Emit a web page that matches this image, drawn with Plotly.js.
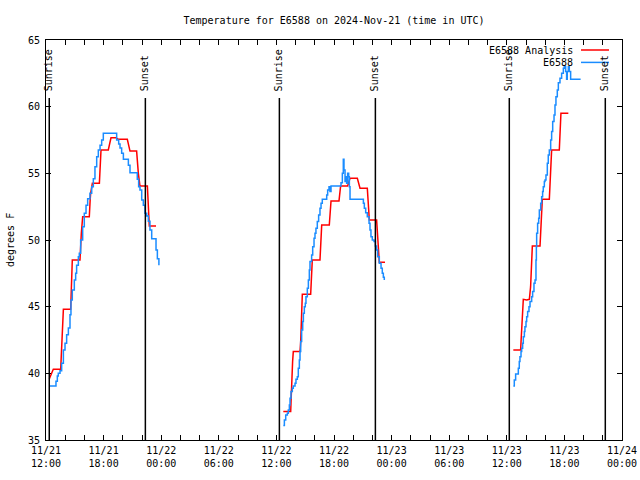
<!DOCTYPE html>
<html><head><meta charset="utf-8">
<script src="https://cdn.plot.ly/plotly-3.0.1.min.js"></script>
<style>html,body{margin:0;padding:0;background:#fff}#chart{width:640px;height:480px}</style>
</head><body><div id="chart"></div>
<script>
// Hours after 2024-11-21 12:00 UTC
const BASE_MS = Date.UTC(2024, 10, 21, 12, 0, 0);
const RANGE_HOURS = 60;

// E6588 Analysis (red)
const analysisHours1 = [0.35,0.59,0.76,1.53,1.58,1.63,1.81,2.57,2.62,2.74,3.54,3.6,3.68,3.82,4.51,4.6,4.65,4.83,5.56,5.73,6.49,6.77,7.29,7.54,8.47,8.75,9.44,9.62,9.79,10.56,10.76,11.46];
const analysisTemps1 = [39.6,40.05,40.3,40.3,41.1,42.6,44.8,44.8,45.75,48.5,48.5,49.5,50.5,51.75,51.75,53.0,53.5,54.25,54.25,56.75,56.75,57.67,57.67,57.55,57.55,56.67,56.67,55.0,54.05,54.05,51.05,51.05];
const analysisHours2 = [24.72,25.49,25.52,25.59,25.69,25.76,26.46,26.53,26.63,26.7,27.57,27.67,27.74,28.54,28.72,29.51,29.69,30.52,30.69,31.42,31.67,32.43,32.71,33.47,33.68,34.44,34.72,35.31];
const analysisTemps2 = [37.13,37.13,37.75,39.5,40.9,41.63,41.63,42.38,44.75,45.93,45.93,47.5,48.5,48.5,51.13,51.13,52.93,52.93,54.05,54.05,54.63,54.63,53.88,53.88,51.5,51.5,48.33,48.33];
const analysisHours3 = [48.68,49.44,49.48,49.55,49.62,49.72,50.07,50.35,50.48,50.55,50.66,51.46,51.53,51.63,51.7,52.43,52.57,52.67,53.47,53.64,54.41];
const analysisTemps3 = [41.75,41.75,42.33,43.63,44.75,45.55,45.5,45.55,46.5,48.5,49.55,49.55,50.38,52.13,53.05,53.05,54.9,56.75,56.75,59.5,59.5];

// E6588 observations (blue)
const obsHours1 = [0.35,1.04,1.18,1.28,1.46,1.63,1.81,1.98,2.15,2.33,2.5,2.6,2.74,2.95,3.09,3.19,3.37,3.47,3.61,3.82,3.99,4.17,4.34,4.58,4.76,4.93,5.1,5.28,5.45,5.63,5.8,5.97,7.36,7.57,7.71,7.88,8.06,8.58,8.75,9.51,9.65,9.79,9.97,10.14,10.31,10.49,10.66,10.83,11.01,11.46,11.6,11.76];
const obsTemps1 = [39.05,39.4,39.8,40.0,40.2,40.75,41.75,42.25,42.9,43.4,44.4,45.5,46.25,47.0,47.5,48.1,48.75,49.0,50.0,51.0,52.0,52.6,53.1,53.5,54.0,54.6,55.5,56.25,56.75,57.1,57.5,58.0,57.5,57.2,56.9,56.5,56.05,55.6,55.05,54.55,54.0,53.75,53.0,52.6,52.0,51.8,51.4,50.75,50.1,49.25,48.6,48.1];
const obsHours2 = [24.72,24.83,24.97,25.14,25.24,25.35,25.42,25.52,25.66,25.76,25.94,26.04,26.18,26.28,26.39,26.46,26.53,26.63,26.74,26.81,26.91,27.01,27.08,27.22,27.33,27.43,27.5,27.67,27.78,27.92,28.02,28.12,28.26,28.4,28.54,28.65,28.78,29.24,29.34,29.48,29.58,29.69,30.73,30.87,30.97,31.04,31.15,31.25,31.32,31.42,31.53,31.6,31.67,33.06,33.16,33.3,33.47,33.65,33.75,33.85,33.99,34.17,34.31,34.44,34.55,34.72,34.9,35.03,35.14,35.24];
const obsTemps2 = [36.08,36.5,36.88,37.0,37.25,37.63,38.13,38.63,38.88,39.05,39.25,39.55,39.75,40.38,41.0,41.63,42.38,43.25,43.88,44.5,45.0,45.25,45.75,46.38,47.0,47.75,48.38,48.88,49.5,50.13,50.5,50.88,51.38,51.88,52.38,52.75,53.05,53.38,53.75,54.0,53.63,54.05,54.3,55.0,56.05,55.25,54.38,54.75,54.25,55.0,54.75,54.0,53.05,52.75,52.38,52.05,51.75,51.25,50.75,50.25,50.0,49.88,49.55,49.25,48.75,48.25,47.88,47.5,47.2,47.0];
const obsHours3 = [48.68,48.78,48.92,49.2,49.3,49.37,49.48,49.55,49.65,49.72,49.83,49.89,50.0,50.07,50.17,50.31,50.42,50.59,50.69,50.83,50.94,51.04,51.08,51.11,51.21,51.32,51.39,51.53,51.63,51.73,51.8,51.91,51.98,52.08,52.22,52.32,52.43,52.57,52.67,52.78,52.92,53.02,53.12,53.26,53.37,53.54,53.71,53.89,53.99,54.13,54.23,54.3,54.41,54.51,54.65,55.69];
const obsTemps3 = [39.05,39.5,39.95,40.38,40.88,41.25,41.63,41.88,42.25,42.75,43.13,43.5,43.88,44.25,44.63,45.0,45.38,45.75,46.13,46.75,47.0,48.5,49.5,50.5,51.25,51.63,52.25,52.75,53.25,53.63,54.0,54.38,54.5,54.88,55.75,56.38,56.75,57.5,58.13,58.88,59.38,60.13,60.75,61.25,61.8,62.13,62.5,62.88,63.0,62.63,62.05,62.63,63.0,62.63,62.05,62.05];

// Sun events (hours after base)
const sunriseHours = [0.34, 24.31, 48.26];
const sunsetHours = [10.35, 34.31, 58.26];

const seriesNames = ['E6588 Analysis', 'E6588'];
const seriesColors = ['#ff0000', '#1a8cff'];
const titleText = 'Temperature for E6588 on 2024-Nov-21 (time in UTC)';
const yTitleText = 'degrees F';

function toDate(h) {
  return new Date(BASE_MS + h * 3600000).toISOString().replace('T', ' ').replace('Z', '');
}
function joinSegments(hs, ts) {
  const x = [], y = [];
  hs.forEach((seg, i) => {
    if (i > 0) { x.push(null); y.push(null); }
    seg.forEach((h, j) => { x.push(toDate(h)); y.push(ts[i][j]); });
  });
  return {x, y};
}

const red = joinSegments([analysisHours1, analysisHours2, analysisHours3], [analysisTemps1, analysisTemps2, analysisTemps3]);
const blue = joinSegments([obsHours1, obsHours2, obsHours3], [obsTemps1, obsTemps2, obsTemps3]);

const FONT = {family: 'DejaVu Sans Mono, monospace', size: 10, color: '#000'};

const traces = [
  {x: red.x, y: red.y, name: seriesNames[0], mode: 'lines', connectgaps: false,
   line: {color: seriesColors[0], width: 1.5}},
  {x: blue.x, y: blue.y, name: seriesNames[1], mode: 'lines', connectgaps: false,
   line: {color: seriesColors[1], width: 1.5, shape: 'hv'}}
];

const LINE_TOP = 0.855, LABEL_BOTTOM = 0.8675;
const shapes = [], annotations = [];
sunriseHours.forEach(h => {
  shapes.push({type: 'line', xref: 'x', yref: 'paper', x0: toDate(h), x1: toDate(h), y0: 0, y1: LINE_TOP, line: {color: '#000', width: 1.5}});
  annotations.push({xref: 'x', yref: 'paper', x: toDate(h), y: LABEL_BOTTOM, text: 'Sunrise', textangle: -90, showarrow: false, xanchor: 'center', yanchor: 'bottom', font: FONT});
});
sunsetHours.forEach(h => {
  shapes.push({type: 'line', xref: 'x', yref: 'paper', x0: toDate(h), x1: toDate(h), y0: 0, y1: LINE_TOP, line: {color: '#000', width: 1.5}});
  annotations.push({xref: 'x', yref: 'paper', x: toDate(h), y: LABEL_BOTTOM, text: 'Sunset', textangle: -90, showarrow: false, xanchor: 'center', yanchor: 'bottom', font: FONT});
});
// gnuplot-style legend (text then line sample)
const legendY = [0.975, 0.944];
seriesNames.forEach((n, i) => {
  annotations.push({xref: 'paper', yref: 'paper', x: 0.918, y: legendY[i], text: n, showarrow: false, xanchor: 'right', yanchor: 'middle', font: FONT});
  shapes.push({type: 'line', xref: 'paper', yref: 'paper', x0: 0.9288, x1: 0.9774, y0: legendY[i], y1: legendY[i], line: {color: seriesColors[i], width: 1.5}});
});
annotations.push({xref: 'paper', yref: 'paper', x: -0.0625, y: 0.5, text: yTitleText, textangle: -90, showarrow: false, xanchor: 'center', yanchor: 'middle', font: FONT});

const layout = {
  width: 640, height: 480,
  margin: {l: 46, r: 18, t: 40, b: 40, pad: 0},
  paper_bgcolor: '#fff', plot_bgcolor: '#fff',
  showlegend: false,
  font: FONT,
  title: {text: titleText, font: FONT, x: 0.5, xref: 'paper', xanchor: 'center', y: 1 - 20/480, yref: 'container', yanchor: 'middle'},
  xaxis: {
    type: 'date', range: [toDate(0), toDate(RANGE_HOURS)],
    tick0: toDate(0), dtick: 6 * 3600000, tickformat: '%m/%d<br>%H:%M',
    ticks: 'inside', ticklen: 5, tickcolor: '#000', tickwidth: 1,
    showline: true, linecolor: '#000', linewidth: 1, mirror: 'ticks',
    showgrid: false, zeroline: false, tickfont: FONT, ticklabelstandoff: 1,
    minor: {dtick: 2 * 3600000, ticks: 'inside', ticklen: 5, tickcolor: '#000', showgrid: false}
  },
  yaxis: {
    range: [35, 65], tick0: 35, dtick: 5,
    ticks: 'inside', ticklen: 5, tickcolor: '#000', tickwidth: 1,
    showline: true, linecolor: '#000', linewidth: 1, mirror: 'ticks',
    showgrid: false, zeroline: false, tickfont: FONT, ticklabelstandoff: 3
  },
  shapes: shapes,
  annotations: annotations
};

Plotly.newPlot('chart', traces, layout, {displayModeBar: false, staticPlot: true});
</script>
</body></html>
